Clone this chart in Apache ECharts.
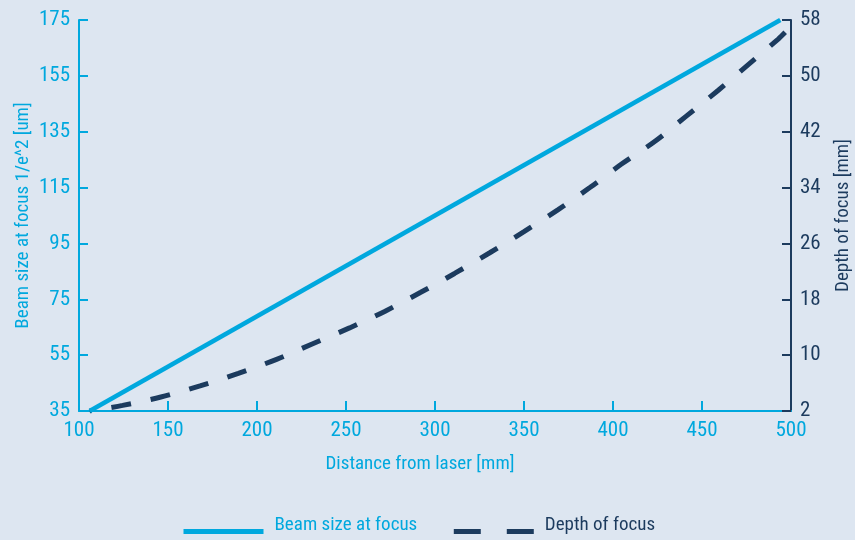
<!DOCTYPE html>
<html>
<head>
<meta charset="utf-8">
<script src="https://cdn.jsdelivr.net/npm/echarts@6/dist/echarts.min.js"></script>
<style>
html,body{margin:0;padding:0;background:#dde6f1;}
#chart{width:855px;height:540px;}
</style>
</head>
<body>
<div id="chart"></div>
<script>
// Data
const beamDistance = [106, 494];
const beamSize = [35, 175];
const depthDistance = [106, 124.5, 146, 168, 189.5, 211, 231, 252, 272, 292, 311, 331, 350, 369, 387, 405, 424, 441, 459, 476, 493, 497];
const depthOfFocus = [2, 2.8, 4.0, 5.6, 7.4, 9.4, 11.6, 13.9, 16.3, 19.0, 21.7, 24.7, 27.7, 30.8, 34.0, 37.4, 40.7, 44.2, 47.9, 51.6, 55.3, 56.3];
const xInnerTicks = [150, 200, 250, 300, 350, 400, 450];
const seriesNames = ['Beam size at focus', 'Depth of focus'];
const xAxisName = 'Distance from laser [mm]';
const leftAxisName = 'Beam size at focus 1/e^2 [um]';
const rightAxisName = 'Depth of focus [mm]';

const CYAN = '#00a8de';
const NAVY = '#1c3b5e';
const FONT = "'Roboto Condensed', 'Open Sans Condensed', sans-serif";

const chart = echarts.init(document.getElementById('chart'), null, {renderer: 'canvas'});
chart.setOption({
  backgroundColor: '#dde6f1',
  animation: false,
  textStyle: {fontFamily: FONT},
  grid: {left: 79, right: 64, top: 20, bottom: 129, containLabel: false, outerBoundsMode: 'none'},
  legend: {
    left: 181,
    top: 516,
    padding: 0,
    itemWidth: 80,
    itemHeight: 10,
    itemGap: 34,
    formatter: '{t|{name}}',
    textStyle: {
      fontFamily: FONT, fontSize: 19,
      rich: {t: {fontFamily: FONT, fontSize: 19, padding: [0, 0, 12, 6]}}
    },
    data: [
      {name: seriesNames[0], textStyle: {color: CYAN, rich: {t: {color: CYAN}}}, itemStyle: {opacity: 0}, lineStyle: {width: 5, type: 'solid', dashOffset: 0}},
      {name: seriesNames[1], textStyle: {color: NAVY, rich: {t: {color: NAVY}}}, itemStyle: {opacity: 0}, lineStyle: {width: 5, type: [27, 26], dashOffset: 0}}
    ]
  },
  xAxis: {
    type: 'value',
    min: 100, max: 500, interval: 50,
    name: xAxisName,
    nameLocation: 'middle',
    nameGap: 44,
    nameMoveOverlap: false,
    nameTextStyle: {color: CYAN, fontSize: 19, fontFamily: FONT, padding: [0, 30, 0, 0]},
    axisLine: {show: true, lineStyle: {color: CYAN, width: 2}},
    axisTick: {show: true, inside: true, length: 10, customValues: xInnerTicks, lineStyle: {color: CYAN, width: 2}},
    axisLabel: {color: CYAN, fontSize: 21, fontFamily: FONT, margin: 9},
    splitLine: {show: false}
  },
  yAxis: [
    {
      type: 'value',
      min: 35, max: 175, interval: 20,
      position: 'left',
      name: leftAxisName,
      nameLocation: 'middle',
      nameGap: 46,
      nameMoveOverlap: false,
      nameTextStyle: {color: CYAN, fontSize: 19, fontFamily: FONT},
      axisLine: {show: true, lineStyle: {color: CYAN, width: 2}},
      axisTick: {show: true, inside: true, length: 9, lineStyle: {color: CYAN, width: 2}},
      axisLabel: {color: CYAN, fontSize: 21, fontFamily: FONT, margin: 9},
      splitLine: {show: false}
    },
    {
      type: 'value',
      min: 2, max: 58, interval: 8,
      position: 'right',
      name: rightAxisName,
      nameLocation: 'middle',
      nameGap: 43,
      nameMoveOverlap: false,
      nameTextStyle: {color: NAVY, fontSize: 19, fontFamily: FONT},
      axisLine: {show: true, lineStyle: {color: NAVY, width: 2}},
      axisTick: {show: true, inside: true, length: 9, lineStyle: {color: NAVY, width: 2}},
      axisLabel: {color: NAVY, fontSize: 21, fontFamily: FONT, margin: 9},
      splitLine: {show: false}
    }
  ],
  series: [
    {
      name: seriesNames[0],
      type: 'line',
      yAxisIndex: 0,
      symbol: 'none',
      data: beamDistance.map((d, i) => [d, beamSize[i]]),
      lineStyle: {color: CYAN, width: 4.5},
      itemStyle: {color: CYAN},
      z: 3
    },
    {
      name: seriesNames[1],
      type: 'line',
      yAxisIndex: 1,
      symbol: 'none',
      smooth: 0.3,
      data: depthDistance.map((d, i) => [d, depthOfFocus[i]]),
      lineStyle: {color: NAVY, width: 5, type: [20, 20], dashOffset: 18},
      itemStyle: {color: NAVY},
      z: 2
    }
  ]
});
</script>
</body>
</html>
